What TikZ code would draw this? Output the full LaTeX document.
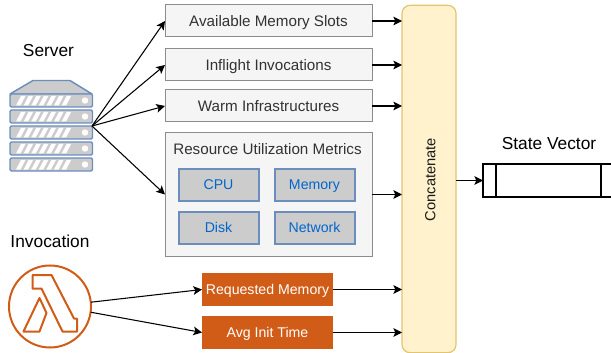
\documentclass[tikz,border=0pt]{standalone}
\usepackage{fontspec}
\setmainfont{Liberation Sans}
\usetikzlibrary{arrows.meta}

\definecolor{boxgray}{HTML}{F5F5F5}
\definecolor{boxline}{HTML}{8C8C8C}
\definecolor{boxtext}{HTML}{333333}
\definecolor{cellgray}{HTML}{CCCCCC}
\definecolor{cellline}{HTML}{6C8EBF}
\definecolor{celltext}{HTML}{0066CC}
\definecolor{concfill}{HTML}{FFF2CC}
\definecolor{concline}{HTML}{E3C56F}
\definecolor{lambdaorange}{HTML}{D05C17}

\tikzset{
    every node/.style={font=\fontsize{10.6pt}{12pt}\selectfont, inner sep=0pt, outer sep=0pt, text height=8pt, text depth=0pt},
    bigfont/.style={font=\fontsize{11.4pt}{13pt}\selectfont},
    title/.style={font=\fontsize{13pt}{15pt}\selectfont},
    feature/.style={bigfont, draw=boxline, fill=boxgray, text=boxtext, line width=0.75pt, minimum width=155.25pt, minimum height=24pt},
    cell/.style={draw=cellline, fill=cellgray, text=celltext, line width=1.5pt, minimum width=60pt, minimum height=24pt},
    invoke/.style={fill=lambdaorange, text=white, minimum width=98.25pt, minimum height=24.75pt},
    link/.style={-{Stealth[length=6.5pt,width=6.5pt,inset=1.5pt]}, line width=0.8pt},
}

\begin{document}
\begin{tikzpicture}[x=0.75pt,y=-0.75pt]
    \useasboundingbox (0,0) rectangle (611,353);

    % 服务器
    \node[title] (servertitle) at (48.5,51) {Server};
    \node[minimum width=61.5pt, minimum height=69pt] (server) at (51,126) {};
    \draw[draw=cellline, fill=cellgray, line width=1.1pt, line join=round] (10,94) -- (33,80.5) -- (70,80.5) -- (92,94) -- cycle;
    \foreach \y in {94,110,126,142,158} {
        \draw[draw=cellline, fill=cellgray, line width=1.1pt, rounded corners=1pt] (10,\y) rectangle (92.5,\y+13);
        \foreach \i in {0,...,6}
            \fill[white] (16+7.6*\i,\y+11.5) -- (20.5+7.6*\i,\y+11.5) -- (25.5+7.6*\i,\y+2) -- (21+7.6*\i,\y+2) -- cycle;
        \fill[white] (85,\y+6.5) circle (3.2);
    }

    % 调用
    \node[title] (invoketitle) at (50,242) {Invocation};
    \node[circle, draw=lambdaorange, line width=1.5pt, minimum size=61.5pt] (lambda) at (50,306.5) {};
    \draw[draw=lambdaorange, line width=1.5pt, line join=round] (32.5,275) -- (51.5,275) -- (74,318.5) -- (77,318.5) -- (77,331.5) -- (62.5,331.5) -- (41.5,288.5) -- (32.5,288.5) -- cycle;
    \draw[draw=lambdaorange, line width=1.5pt, line join=round] (39.5,298) -- (46.5,313) -- (39.5,331.5) -- (23.5,331.5) -- cycle;

    % 特征
    \node[feature] (slots) at (268.5,21) {Available Memory Slots};
    \node[feature] (inflight) at (268.5,65) {Inflight Invocations};
    \node[feature] (warm) at (268.5,106) {Warm Infrastructures};
    \node[feature, minimum height=92.25pt] (metrics) at (268.5,194.5) {};
    \node[bigfont, text=boxtext] (metricstitle) at (267.5,149) {Resource Utilization Metrics};
    \node[cell] (cpu) at (218.5,184.5) {CPU};
    \node[cell] (memory) at (314.5,184.5) {Memory};
    \node[cell] (disk) at (218.5,227.5) {Disk};
    \node[cell] (network) at (314.5,227.5) {Network};
    \node[invoke] (requested) at (267.5,289.5) {Requested Memory};
    \node[invoke] (inittime) at (267.5,332.5) {Avg Init Time};

    % 拼接
    \node[draw=concline, fill=concfill, line width=0.9pt, rounded corners=6pt, minimum width=40.5pt, minimum height=260.5pt] (concat) at (429,179) {};
    \node[rotate=90, text=boxtext!50!black, font=\fontsize{11pt}{13pt}\selectfont] (concattext) at (430,179.5) {Concatenate};

    % 状态向量
    \node[title] (statetitle) at (549,144.5) {State Vector};
    \node[draw=black, line width=1.5pt, minimum width=99pt, minimum height=24.75pt] (state) at (549,180.5) {};
    \coordinate (cutleft) at (496,180.5);
    \coordinate (cutright) at (601,180.5);
    \draw[line width=1.5pt] (cutleft |- state.north) -- (cutleft |- state.south);
    \draw[line width=1.5pt] (cutright |- state.north) -- (cutright |- state.south);

    % 连线
    \draw[link] (server.east) -- (slots.west);
    \draw[link] (server.east) -- (inflight.west);
    \draw[link] (server.east) -- (warm.west);
    \draw[link] (server.east) -- (metrics.west);
    \draw[link] (lambda.6) -- (requested.west);
    \draw[link] (lambda.-8) -- (inittime.west);
    \foreach \name in {slots,inflight,warm,metrics,requested,inittime}
        \draw[link] (\name.east) -- (\name.east -| concat.west);
    \draw[link] (concat.east |- state.west) -- (state.west);
\end{tikzpicture}
\end{document}
